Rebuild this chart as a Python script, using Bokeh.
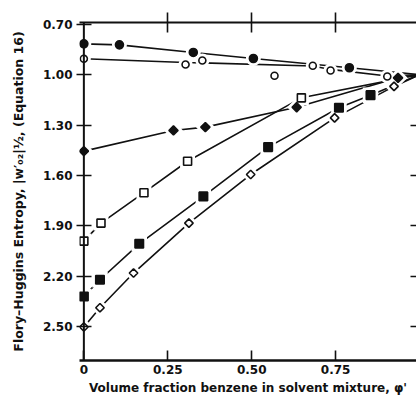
from bokeh.plotting import figure
from bokeh.models import Range1d, FixedTicker, LinearAxis, Span
from bokeh.embed import file_html
from bokeh.resources import INLINE

# ---- data ----
x_ticks = [0, 0.25, 0.5, 0.75]
x_tick_labels = ["0", "0.25", "0.50", "0.75"]
y_ticks = [0.70, 1.00, 1.30, 1.60, 1.90, 2.20, 2.50]
y_tick_labels = ["0.70", "1.00", "1.30", "1.60", "1.90", "2.20", "2.50"]

conv_x = 1.0
conv_y = 1.00

fc_x = [0, 0.106, 0.326, 0.505, 0.791]          # filled circles
fc_y = [0.817, 0.823, 0.868, 0.904, 0.959]

oc_x = [0, 0.303, 0.353, 0.568, 0.682, 0.735, 0.904]   # open circles
oc_y = [0.906, 0.940, 0.916, 1.007, 0.947, 0.975, 1.011]
oc_line_x = [0, 0.303, 0.353, 0.682, 0.735, 0.904, 1.0]
oc_line_y = [0.906, 0.928, 0.930, 0.949, 0.969, 1.008, 1.00]

fd_x = [0, 0.267, 0.362, 0.634, 0.936]            # filled diamonds
fd_y = [1.455, 1.332, 1.312, 1.194, 1.019]

os_x = [0, 0.051, 0.179, 0.309, 0.648]            # open squares
os_y = [1.990, 1.883, 1.702, 1.515, 1.138]

fs_x = [0, 0.048, 0.165, 0.356, 0.549, 0.760, 0.854]   # filled squares
fs_y = [2.319, 2.220, 2.006, 1.724, 1.431, 1.197, 1.122]

od_x = [0, 0.048, 0.148, 0.313, 0.497, 0.747, 0.924]   # open diamonds
od_y = [2.501, 2.386, 2.180, 1.883, 1.594, 1.257, 1.070]

INK = "#111111"
FONT = "DejaVu Sans"

p = figure(width=416, height=398, output_backend="svg", toolbar_location=None,
           x_range=Range1d(-0.013, 0.991), y_range=Range1d(2.70, 0.69),
           min_border_left=79, min_border_top=22, min_border_right=0,
           min_border_bottom=38, background_fill_color="white",
           border_fill_color="white")
p.outline_line_color = None
p.grid.visible = False

def style_axis(ax, lw=2):
    ax.axis_line_color = INK
    ax.axis_line_width = lw
    ax.major_tick_line_color = INK
    ax.major_tick_line_width = 1.6
    ax.minor_tick_line_color = None
    ax.major_label_text_font = FONT
    ax.major_label_text_font_style = "bold"
    ax.major_label_text_font_size = "12px"
    ax.major_label_text_color = INK
    ax.axis_label_text_font = FONT
    ax.axis_label_text_font_style = "bold"
    ax.axis_label_text_font_size = "12px"
    ax.axis_label_text_color = INK

xa = p.xaxis[0]
style_axis(xa, 2.5)
xa.ticker = FixedTicker(ticks=x_ticks)
xa.major_label_overrides = {t: l for t, l in zip(x_ticks, x_tick_labels)}
xa.major_tick_in = 10
xa.major_tick_out = 0
xa.major_label_standoff = 4
xa.axis_label = "Volume fraction benzene in solvent mixture, \u03c6'"
xa.axis_label_standoff = 4

ya = p.yaxis[0]
style_axis(ya, 2)
ya.axis_line_color = None
ya.ticker = FixedTicker(ticks=y_ticks)
ya.major_label_overrides = {t: l for t, l in zip(y_ticks, y_tick_labels)}
ya.major_tick_in = 12
ya.major_tick_out = 3
ya.major_label_standoff = 4
ya.axis_label = "Flory\u2013Huggins Entropy, |w\u2032\u2080\u2082|\u00bd, (Equation 16)"
ya.axis_label_text_font_size = "12.5px"
ya.axis_label_standoff = 14

# left axis line drawn at x = 0
p.add_layout(Span(location=0, dimension="height", line_color=INK, line_width=2))

top = LinearAxis(ticker=FixedTicker(ticks=x_ticks[1:]))
style_axis(top, 2)
top.major_tick_in = 10
top.major_tick_out = 10
top.major_label_text_color = None
top.major_label_standoff = 0
p.add_layout(top, "above")

right = LinearAxis(ticker=FixedTicker(ticks=y_ticks[2:]))
style_axis(right, 2)
right.axis_line_color = None
right.major_tick_in = 6
right.major_tick_out = 0
right.major_label_text_color = None
right.major_label_standoff = 0
p.add_layout(right, "right")

series = [
    # marker x, y, line x, line y, marker, size, filled, angle
    (fc_x, fc_y, fc_x + [conv_x], fc_y + [conv_y], "circle", 8, True, 0),
    (oc_x, oc_y, oc_line_x, oc_line_y, "circle", 7, False, 0),
    (fd_x, fd_y, fd_x + [conv_x], fd_y + [conv_y], "square", 6.5, True, 0.785),
    (os_x, os_y, os_x + [conv_x], os_y + [conv_y], "square", 8, False, 0),
    (fs_x, fs_y, fs_x + [conv_x], fs_y + [conv_y], "square", 8.5, True, 0),
    (od_x, od_y, od_x + [conv_x], od_y + [conv_y], "square", 6, False, 0.785),
]

for mx, my, lx, ly, mk, sz, filled, ang in series:
    p.line(lx, ly, line_color=INK, line_width=1.6)

for mx, my, lx, ly, mk, sz, filled, ang in series:
    p.scatter(mx, my, marker=mk, size=sz + 7, angle=ang,
              fill_color="white", line_color=None)

for mx, my, lx, ly, mk, sz, filled, ang in series:
    p.scatter(mx, my, marker=mk, size=sz, angle=ang,
              fill_color=INK if filled else "white",
              line_color=INK, line_width=1.6)

open("out.html", "w").write(file_html(p, INLINE))
